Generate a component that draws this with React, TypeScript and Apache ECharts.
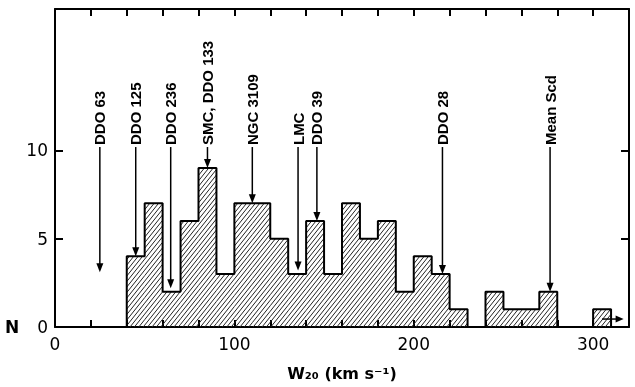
import React, { useEffect, useRef } from "react";
import * as echarts from "echarts";

// Histogram bins (left edges, km/s) and counts
const binWidth = 10;
const binStarts = [40, 50, 60, 70, 80, 90, 100, 110, 120, 130, 140, 150, 160, 170, 180, 190, 200, 210, 220, 230, 240, 250, 260, 270, 280, 290, 300];
const binCounts = [4, 7, 2, 6, 9, 3, 7, 7, 5, 3, 6, 3, 7, 5, 6, 2, 4, 3, 1, 0, 2, 1, 1, 2, 0, 0, 1];

// Annotated galaxies
const annotationLabels = ["DDO 63", "DDO 125", "DDO 236", "SMC, DDO 133", "NGC 3109", "LMC", "DDO 39", "DDO 28", "Mean Scd"];
const annotationX = [25, 45, 64.5, 85, 110, 135.5, 146, 216, 276];
const annotationTip = [3.1, 4, 2.2, 9, 7, 3.2, 6, 3, 2];
const annotationBase = 10.3;

// Overflow arrow in the last bin
const overflowArrow = [[305, 317, 0.45]];

// Axis ticks and labels
const xMax = 320;
const yMax = 18;
const xTickLabels = [0, 100, 200, 300];
const yTickValues = [0, 5, 10];

const FONT = "DejaVu Sans";
const ANN_FONT = "Liberation Sans";

export default function App() {
  const ref = useRef<HTMLDivElement>(null);

  useEffect(() => {
    if (!ref.current) return;
    const chart = echarts.init(ref.current, null, { renderer: "svg" });

    const hatchData = binStarts
      .map((s, i) => [s, s + binWidth, binCounts[i]])
      .filter((d) => d[2] > 0);

    const outline: number[][] = [[binStarts[0], 0]];
    binStarts.forEach((s, i) => outline.push([s, binCounts[i]]));
    outline.push([binStarts[binStarts.length - 1] + binWidth, 0]);

    const annData = annotationX.map((x, i) => [x, annotationTip[i]]);

    const option: any = {
      animation: false,
      grid: { left: 55, right: 6, top: 9, bottom: 60 },
      xAxis: [
        {
          type: "value",
          min: 0,
          max: xMax,
          interval: 20,
          position: "bottom",
          axisLine: { show: true, onZero: false, lineStyle: { color: "#000", width: 2 } },
          axisTick: { show: true, inside: true, length: 7, lineStyle: { color: "#000", width: 2 } },
          axisLabel: {
            formatter: (v: number) => (xTickLabels.indexOf(v) >= 0 ? String(v) : ""),
            fontSize: 17,
            color: "#000",
            margin: 8,
            fontFamily: FONT,
          },
          splitLine: { show: false },
          name: "W₂₀ (km s⁻¹)",
          nameLocation: "middle",
          nameGap: 38,
          nameTextStyle: { fontSize: 16, fontWeight: "bold", fontFamily: FONT, color: "#000" },
        },
        {
          type: "value",
          min: 0,
          max: xMax,
          interval: 20,
          position: "top",
          axisLine: { show: true, onZero: false, lineStyle: { color: "#000", width: 2 } },
          axisTick: { show: true, inside: true, length: 7, lineStyle: { color: "#000", width: 2 } },
          axisLabel: { show: false },
          splitLine: { show: false },
        },
      ],
      yAxis: [
        {
          type: "value",
          min: 0,
          max: yMax,
          interval: 5,
          position: "left",
          axisLine: { show: true, onZero: false, lineStyle: { color: "#000", width: 2 } },
          axisTick: { show: true, inside: true, length: 8, customValues: [0, 5, 10], lineStyle: { color: "#000", width: 2 } },
          axisLabel: {
            customValues: [0, 5, 10],
            formatter: (v: number) => (yTickValues.indexOf(v) >= 0 ? String(v) : ""),
            fontSize: 17,
            color: "#000",
            margin: 7,
            fontFamily: FONT,
          },
          splitLine: { show: false },
          name: "N",
          nameLocation: "start",
          nameRotate: 0,
          nameGap: 0,
          nameTextStyle: {
            fontSize: 17,
            fontWeight: "bold",
            fontFamily: FONT,
            color: "#000",
            align: "left",
            verticalAlign: "middle",
            padding: [0, 0, 216, -50],
          },
        },
        {
          type: "value",
          min: 0,
          max: yMax,
          interval: 5,
          position: "right",
          axisLine: { show: true, onZero: false, lineStyle: { color: "#000", width: 2 } },
          axisTick: { show: true, inside: true, length: 8, customValues: [0, 5, 10], lineStyle: { color: "#000", width: 2 } },
          axisLabel: { show: false },
          splitLine: { show: false },
        },
      ],
      series: [
        {
          type: "custom",
          data: hatchData,
          encode: { x: [0, 1], y: 2 },
          renderItem: (params: any, api: any) => {
            const pTL = api.coord([api.value(0), api.value(2)]);
            const pBR = api.coord([api.value(1), 0]);
            const X0 = pTL[0], X1 = pBR[0], YT = pTL[1], YB = pBR[1];
            const m = 1.25;
            const step = 4.4 * m;
            const children: any[] = [];
            const cStart = Math.ceil((YT + m * X0) / step) * step;
            for (let k = 0; cStart + k * step <= YB + m * X1; k++) {
              const c = cStart + k * step;
              const xa = Math.max(X0, (c - YB) / m);
              const xb = Math.min(X1, (c - YT) / m);
              if (xb - xa > 0.3) {
                children.push({
                  type: "line",
                  shape: { x1: xa, y1: c - m * xa, x2: xb, y2: c - m * xb },
                  style: { stroke: "#222", lineWidth: 1 },
                });
              }
            }
            return { type: "group", children };
          },
        },
        {
          type: "line",
          data: outline,
          step: "end",
          symbol: "none",
          lineStyle: { color: "#000", width: 2 },
        },
        {
          type: "custom",
          data: annData,
          encode: { x: 0, y: 1 },
          renderItem: (params: any, api: any) => {
            const p = api.coord([api.value(0), api.value(1)]);
            const base = api.coord([api.value(0), annotationBase])[1];
            const px = p[0], py = p[1];
            return {
              type: "group",
              children: [
                {
                  type: "text",
                  x: px,
                  y: base,
                  rotation: Math.PI / 2,
                  style: {
                    text: annotationLabels[params.dataIndex],
                    fontSize: 15,
                    fontWeight: "bold",
                    fontFamily: ANN_FONT,
                    fill: "#000",
                    align: "left",
                    verticalAlign: "middle",
                  },
                },
                {
                  type: "line",
                  shape: { x1: px, y1: base + 2, x2: px, y2: py - 6 },
                  style: { stroke: "#000", lineWidth: 1.5 },
                },
                {
                  type: "polygon",
                  shape: { points: [[px - 3.5, py - 9], [px + 3.5, py - 9], [px, py]] },
                  style: { fill: "#000" },
                },
              ],
            };
          },
        },
        {
          type: "custom",
          data: overflowArrow,
          encode: { x: [0, 1], y: 2 },
          renderItem: (params: any, api: any) => {
            const a = api.coord([api.value(0), api.value(2)]);
            const b = api.coord([api.value(1), api.value(2)]);
            return {
              type: "group",
              children: [
                { type: "line", shape: { x1: a[0], y1: a[1], x2: b[0] - 6, y2: b[1] }, style: { stroke: "#000", lineWidth: 1.5 } },
                {
                  type: "polygon",
                  shape: { points: [[b[0] - 8, b[1] - 3.5], [b[0] - 8, b[1] + 3.5], [b[0], b[1]]] },
                  style: { fill: "#000" },
                },
              ],
            };
          },
        },
      ],
    };

    chart.setOption(option);
    return () => chart.dispose();
  }, []);

  return (
    <div
      ref={ref}
      style={{ position: "fixed", left: 0, top: 0, width: 635, height: 387 }}
    />
  );
}
